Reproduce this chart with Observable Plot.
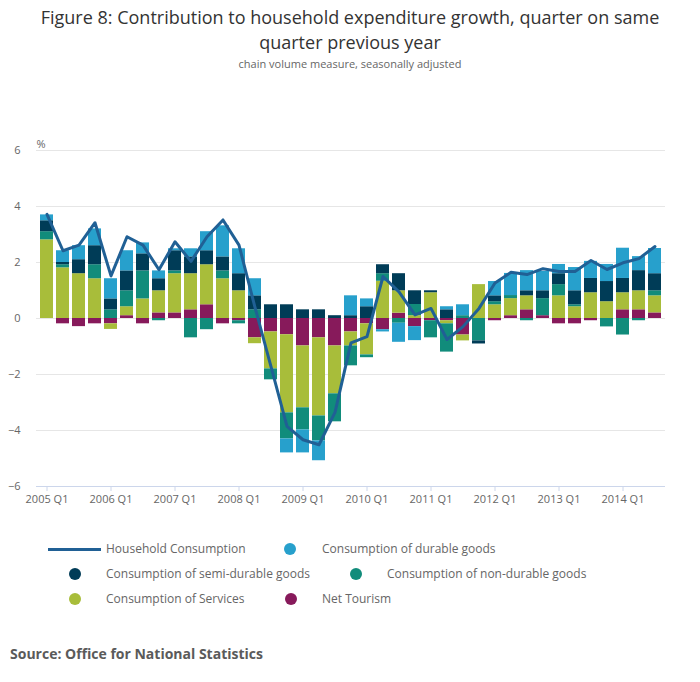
<!DOCTYPE html>
<html><head><meta charset="utf-8">
<script src="https://cdn.jsdelivr.net/npm/d3@7"></script>
<script src="https://cdn.jsdelivr.net/npm/@observablehq/plot@0.6"></script>
<style>
body{margin:0;background:#fff;font-family:"Open Sans",sans-serif;}
#wrap{position:relative;width:700px;height:682px;overflow:hidden;}
.t{position:absolute;left:0;width:700px;text-align:center;line-height:normal;}
.lg{position:absolute;font-size:12px;color:#666;line-height:16px;white-space:nowrap;}
.dot{position:absolute;width:12px;height:12px;border-radius:50%;}
</style></head><body>
<div id="wrap">
  <div class="t" style="top:5px;font-size:18px;color:#333;">Figure 8: Contribution to household expenditure growth, quarter on same</div>
  <div class="t" style="top:30px;font-size:18px;color:#333;">quarter previous year</div>
  <div class="t" style="top:56px;font-size:11px;color:#666;">chain volume measure, seasonally adjusted</div>
  <div id="chart" style="position:absolute;left:0;top:130px;"></div>
  <div id="legend"></div>
  <div style="position:absolute;left:10px;top:645px;font-size:14px;font-weight:bold;color:#5a5a5a;line-height:18px;">Source: Office for National Statistics</div>
</div>
<script>
const quarters = ["2005 Q1","2005 Q2","2005 Q3","2005 Q4","2006 Q1","2006 Q2","2006 Q3","2006 Q4",
"2007 Q1","2007 Q2","2007 Q3","2007 Q4","2008 Q1","2008 Q2","2008 Q3","2008 Q4",
"2009 Q1","2009 Q2","2009 Q3","2009 Q4","2010 Q1","2010 Q2","2010 Q3","2010 Q4",
"2011 Q1","2011 Q2","2011 Q3","2011 Q4","2012 Q1","2012 Q2","2012 Q3","2012 Q4",
"2013 Q1","2013 Q2","2013 Q3","2013 Q4","2014 Q1","2014 Q2","2014 Q3"];
const xTickLabels = ["2005 Q1","2006 Q1","2007 Q1","2008 Q1","2009 Q1","2010 Q1","2011 Q1","2012 Q1","2013 Q1","2014 Q1"];
const yTicks = [-6,-4,-2,0,2,4,6];

const householdConsumption = [3.72,2.42,2.62,3.42,1.52,2.92,2.62,1.74,2.74,2.04,2.92,3.52,2.62,0.40,-1.72,-3.85,-4.33,-4.51,-3.35,-0.87,-0.65,1.50,0.95,0.13,0.36,-0.75,-0.29,0.36,1.27,1.65,1.57,1.78,1.68,1.68,2.07,1.75,1.99,2.14,2.57];
const netTourism = [0,-0.19,-0.29,-0.19,-0.19,0.10,-0.19,0.20,0.20,0.31,0.49,-0.19,-0.08,-0.69,-0.48,-0.58,-0.98,-0.69,-0.98,-0.48,-0.19,-0.40,0.19,-0.29,-0.08,-0.08,-0.59,0,-0.08,0.10,0.31,0.10,-0.19,-0.19,-0.08,0,0.31,0.31,0.20];
const services = [2.81,1.81,1.60,1.42,-0.20,0.32,0.70,0.79,1.40,1.29,1.43,1.42,0.99,-0.21,-1.32,-2.79,-2.21,-2.79,-1.71,-0.50,-1.11,1.33,0.80,0.10,0.92,-0.11,-0.21,1.21,0.49,0.61,0.50,0,0.81,0.42,0.92,0.60,0.61,0.68,0.61];
const nonDurable = [0.29,0.11,0,0.50,0.31,0.57,1.00,-0.08,0.10,-0.69,-0.40,0.28,-0.11,0.31,-0.39,-0.93,-0.79,-0.89,-1.00,-0.71,-0.10,0.27,-0.17,0.40,-0.61,-1.01,0.10,-0.80,0.11,0.11,-0.08,0.61,0.40,0.07,0,-0.30,-0.59,-0.08,0.18];
const semiDurable = [0.39,0.08,0.50,0.68,0.39,0.71,0.61,0.43,0.72,0.60,0.50,0.50,0.61,0.50,0.49,0.49,0.31,0.31,0.10,0.10,0.42,0.32,0.61,0.49,0.07,0.31,0,-0.11,0.21,0,0.18,0.28,0.39,0.50,0.51,0.72,0.51,0.72,0.61];
const durable = [0.21,0.42,0.50,0.60,0.72,0.72,0.39,0.28,0.07,0.29,0.68,1.11,0.89,0.61,0,-0.50,-0.82,-0.71,0,0.71,0.28,-0.08,-0.68,-0.50,0,0.11,0.39,0,0.51,0.79,0.72,0.69,0.33,0.83,0.61,0.61,1.08,0.50,0.90];

const seriesNames = ["Net Tourism","Consumption of Services","Consumption of non-durable goods","Consumption of semi-durable goods","Consumption of durable goods"];
const seriesColors = ["#871a5b","#a8bd3a","#118c7b","#003c57","#27a0cc"];
const seriesValues = [netTourism, services, nonDurable, semiDurable, durable];

const rows = [];
seriesNames.forEach((s, si) => {
  quarters.forEach((q, i) => rows.push({q, s, v: seriesValues[si][i]}));
});

const chart = Plot.plot({
  width: 700, height: 390,
  marginTop: 20, marginBottom: 34, marginLeft: 36, marginRight: 35,
  style: {fontFamily: "Open Sans, sans-serif", fontSize: "11px", color: "#666", background: "transparent"},
  x: {type: "band", domain: quarters, paddingInner: 0.19, paddingOuter: 0.095, label: null},
  y: {domain: [-6, 6], label: null},
  color: {domain: seriesNames, range: seriesColors},
  marks: [
    Plot.ruleY(yTicks.filter(d => d > -6), {stroke: "#e6e6e6", strokeWidth: 1}),
    Plot.barY(rows, {x: "q", y: "v", fill: "s"}),
    Plot.ruleY([-6], {stroke: "#ccd6eb", strokeWidth: 1}),
    Plot.line(householdConsumption, {x: (d, i) => quarters[i], y: d => d, stroke: "#206095", strokeWidth: 3, strokeLinejoin: "round"}),
    Plot.axisX({ticks: xTickLabels, tickSize: 5, tickPadding: 4, stroke: "#ccd6eb", fill: "#666", label: null}),
    Plot.axisY({ticks: yTicks, tickSize: 0, tickPadding: 16, fill: "#666", label: null}),
    Plot.text(["%"], {frameAnchor: "top-left", dx: 0, dy: -10, textAnchor: "start", fill: "#666", fontSize: 11})
  ]
});
document.getElementById("chart").appendChild(chart);

// legend
const legendItems = [
  {name: "Household Consumption", type: "line", color: "#206095", sx: 48, tx: 106, y: 549},
  {name: "Consumption of durable goods", type: "dot", color: "#27a0cc", sx: 290, tx: 322, y: 549},
  {name: "Consumption of semi-durable goods", type: "dot", color: "#003c57", sx: 75, tx: 106, y: 574},
  {name: "Consumption of non-durable goods", type: "dot", color: "#118c7b", sx: 356, tx: 387, y: 574},
  {name: "Consumption of Services", type: "dot", color: "#a8bd3a", sx: 75, tx: 106, y: 599},
  {name: "Net Tourism", type: "dot", color: "#871a5b", sx: 291, tx: 322, y: 599}
];
const lg = document.getElementById("legend");
legendItems.forEach(it => {
  const sw = document.createElement("div");
  if (it.type === "line") {
    sw.style.cssText = `position:absolute;left:${it.sx}px;top:${it.y - 1.5}px;width:53px;height:3px;background:${it.color};`;
  } else {
    sw.className = "dot";
    sw.style.cssText += `left:${it.sx - 6}px;top:${it.y - 6}px;background:${it.color};`;
  }
  lg.appendChild(sw);
  const tx = document.createElement("div");
  tx.className = "lg";
  tx.style.left = it.tx + "px";
  tx.style.top = (it.y - 8) + "px";
  tx.textContent = it.name;
  lg.appendChild(tx);
});
</script>
</body></html>
